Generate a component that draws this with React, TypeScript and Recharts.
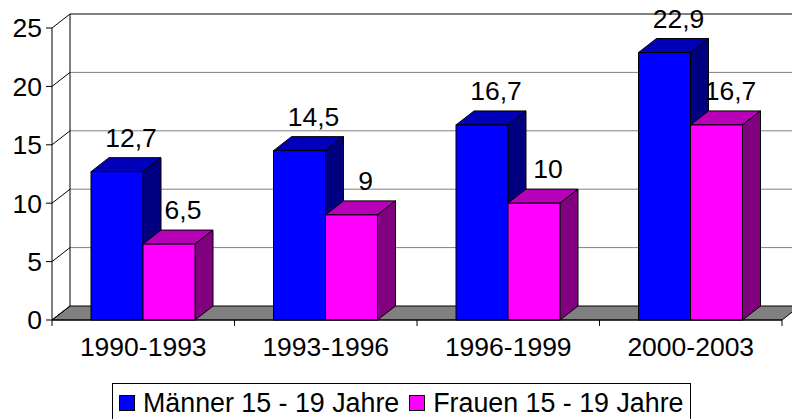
import {
  BarChart,
  Bar,
  XAxis,
  YAxis,
  CartesianGrid,
  LabelList,
  Legend,
} from "recharts"

const categories = ["1990-1993", "1993-1996", "1996-1999", "2000-2003"]
const maenner = [12.7, 14.5, 16.7, 22.9]
const frauen = [6.5, 9, 10, 16.7]
const yTicks = [0, 5, 10, 15, 20, 25]

const seriesNames = ["Männer 15 - 19 Jahre", "Frauen 15 - 19 Jahre"]

const data = categories.map((period, i) => ({
  period,
  maenner: maenner[i],
  frauen: frauen[i],
}))

// chart geometry
const W = 792
const H = 419
const MARGIN = { top: 28, right: 10, left: 0, bottom: 59 }
const Y_AXIS_W = 52
const X_AXIS_H = 40
const PLOT_W = W - MARGIN.left - MARGIN.right - Y_AXIS_W
const PLOT_H = H - MARGIN.top - MARGIN.bottom - X_AXIS_H
const PLOT_BOTTOM = MARGIN.top + PLOT_H
const BAND = PLOT_W / categories.length

// 3d depth offset
const DX = 18
const DY = 14

const FONT = 26.5

const colors = {
  maenner: { front: "#0000ff", top: "#0000b8", side: "#000080" },
  frauen: { front: "#ff00ff", top: "#b800b8", side: "#800080" },
}

const fmt = (v: number) => String(v).replace(".", ",")

function BackLine(props: any) {
  const { x1, y1, x2 } = props
  const isBottom = Math.abs(y1 - PLOT_BOTTOM) < 0.5
  const isTop = Math.abs(y1 - MARGIN.top) < 0.5
  return (
    <g key={props.key ?? `bl-${y1}`}>
      {isBottom ? (
        <polygon
          points={`${x1},${y1} ${x2},${y1} ${x2 + DX},${y1 - DY} ${x1 + DX},${y1 - DY}`}
          fill="#808080"
          stroke="#000"
          strokeWidth={1}
        />
      ) : (
        <line
          x1={x1 + DX}
          y1={y1 - DY}
          x2={x2 + DX}
          y2={y1 - DY}
          stroke={isTop ? "#000" : "#808080"}
          strokeWidth={1}
        />
      )}
      <line x1={x1} y1={y1} x2={x1 + DX} y2={y1 - DY} stroke="#000" strokeWidth={1} />
      {isTop && (
        <line
          x1={x1 + DX}
          y1={y1 - DY}
          x2={x1 + DX}
          y2={y1 - DY + PLOT_H}
          stroke="#000"
          strokeWidth={1}
        />
      )}
    </g>
  )
}

function makeBox(c: { front: string; top: string; side: string }) {
  return (props: any) => {
    const { x, y, width: w, height: h } = props
    return (
      <g>
        <polygon
          points={`${x},${y} ${x + DX},${y - DY} ${x + w + DX},${y - DY} ${x + w},${y}`}
          fill={c.top}
          stroke="#000"
          strokeWidth={1}
        />
        <polygon
          points={`${x + w},${y} ${x + w + DX},${y - DY} ${x + w + DX},${y + h - DY} ${x + w},${y + h}`}
          fill={c.side}
          stroke="#000"
          strokeWidth={1}
        />
        <rect x={x} y={y} width={w} height={h} fill={c.front} stroke="#000" strokeWidth={1} />
      </g>
    )
  }
}

function ValueLabel(props: any) {
  const { x, y, width, value } = props
  return (
    <text x={x + width / 2 + 14} y={y - 25} textAnchor="middle" fontSize={FONT} fill="#000">
      {fmt(value)}
    </text>
  )
}

function XTick(props: any) {
  const { x, y, payload, index } = props
  const axisY = y - 8
  return (
    <g>
      <text x={x} y={y + 28} textAnchor="middle" fontSize={FONT} fill="#000">
        {payload.value}
      </text>
      <line x1={x + BAND / 2} y1={axisY} x2={x + BAND / 2} y2={axisY + 6} stroke="#000" />
      {index === 0 && (
        <line x1={x - BAND / 2} y1={axisY} x2={x - BAND / 2} y2={axisY + 6} stroke="#000" />
      )}
    </g>
  )
}

function LegendBox() {
  const items = [
    { name: seriesNames[0], color: colors.maenner.front },
    { name: seriesNames[1], color: colors.frauen.front },
  ]
  return (
    <div
      style={{
        display: "inline-flex",
        alignItems: "center",
        border: "1px solid #000",
        background: "#fff",
        padding: "4px 7px 6px 6px",
        fontSize: 26.8,
        lineHeight: "30px",
        whiteSpace: "nowrap",
        color: "#000",
      }}
    >
      {items.map((it, i) => (
        <span key={it.name} style={{ display: "inline-flex", alignItems: "center", marginLeft: i ? 10 : 0 }}>
          <span
            style={{
              display: "inline-block",
              width: 14,
              height: 14,
              background: it.color,
              border: "1px solid #000",
              marginRight: 8,
            }}
          />
          {it.name}
        </span>
      ))}
    </div>
  )
}

export default function App() {
  return (
    <div
      style={{
        position: "absolute",
        left: 0,
        top: 0,
        width: W,
        height: H,
        background: "#fff",
        fontFamily: "'Liberation Sans', Arial, sans-serif",
      }}
    >
      <BarChart width={W} height={H} data={data} margin={MARGIN} barGap={0} barSize={52}>
        <CartesianGrid vertical={false} horizontal={(p: any) => <BackLine {...p} />} />
        <XAxis
          dataKey="period"
          height={X_AXIS_H}
          interval={0}
          axisLine={{ stroke: "#000" }}
          tickLine={false}
          tickSize={6}
          tickMargin={2}
          tick={<XTick />}
        />
        <YAxis
          width={Y_AXIS_W}
          domain={[0, 25]}
          ticks={yTicks}
          interval={0}
          tickSize={6}
          tickMargin={4}
          axisLine={{ stroke: "#000" }}
          tickLine={{ stroke: "#000" }}
          tick={{ fill: "#000", fontSize: FONT }}
        />
        <Bar dataKey="maenner" name={seriesNames[0]} shape={makeBox(colors.maenner)} isAnimationActive={false}>
          <LabelList dataKey="maenner" content={<ValueLabel />} />
        </Bar>
        <Bar dataKey="frauen" name={seriesNames[1]} shape={makeBox(colors.frauen)} isAnimationActive={false}>
          <LabelList dataKey="frauen" content={<ValueLabel />} />
        </Bar>
        <Legend
          layout="horizontal"
          verticalAlign="middle"
          align="center"
          content={<LegendBox />}
          wrapperStyle={{ top: 383, left: 112, width: "auto", height: "auto" }}
        />
      </BarChart>
    </div>
  )
}
